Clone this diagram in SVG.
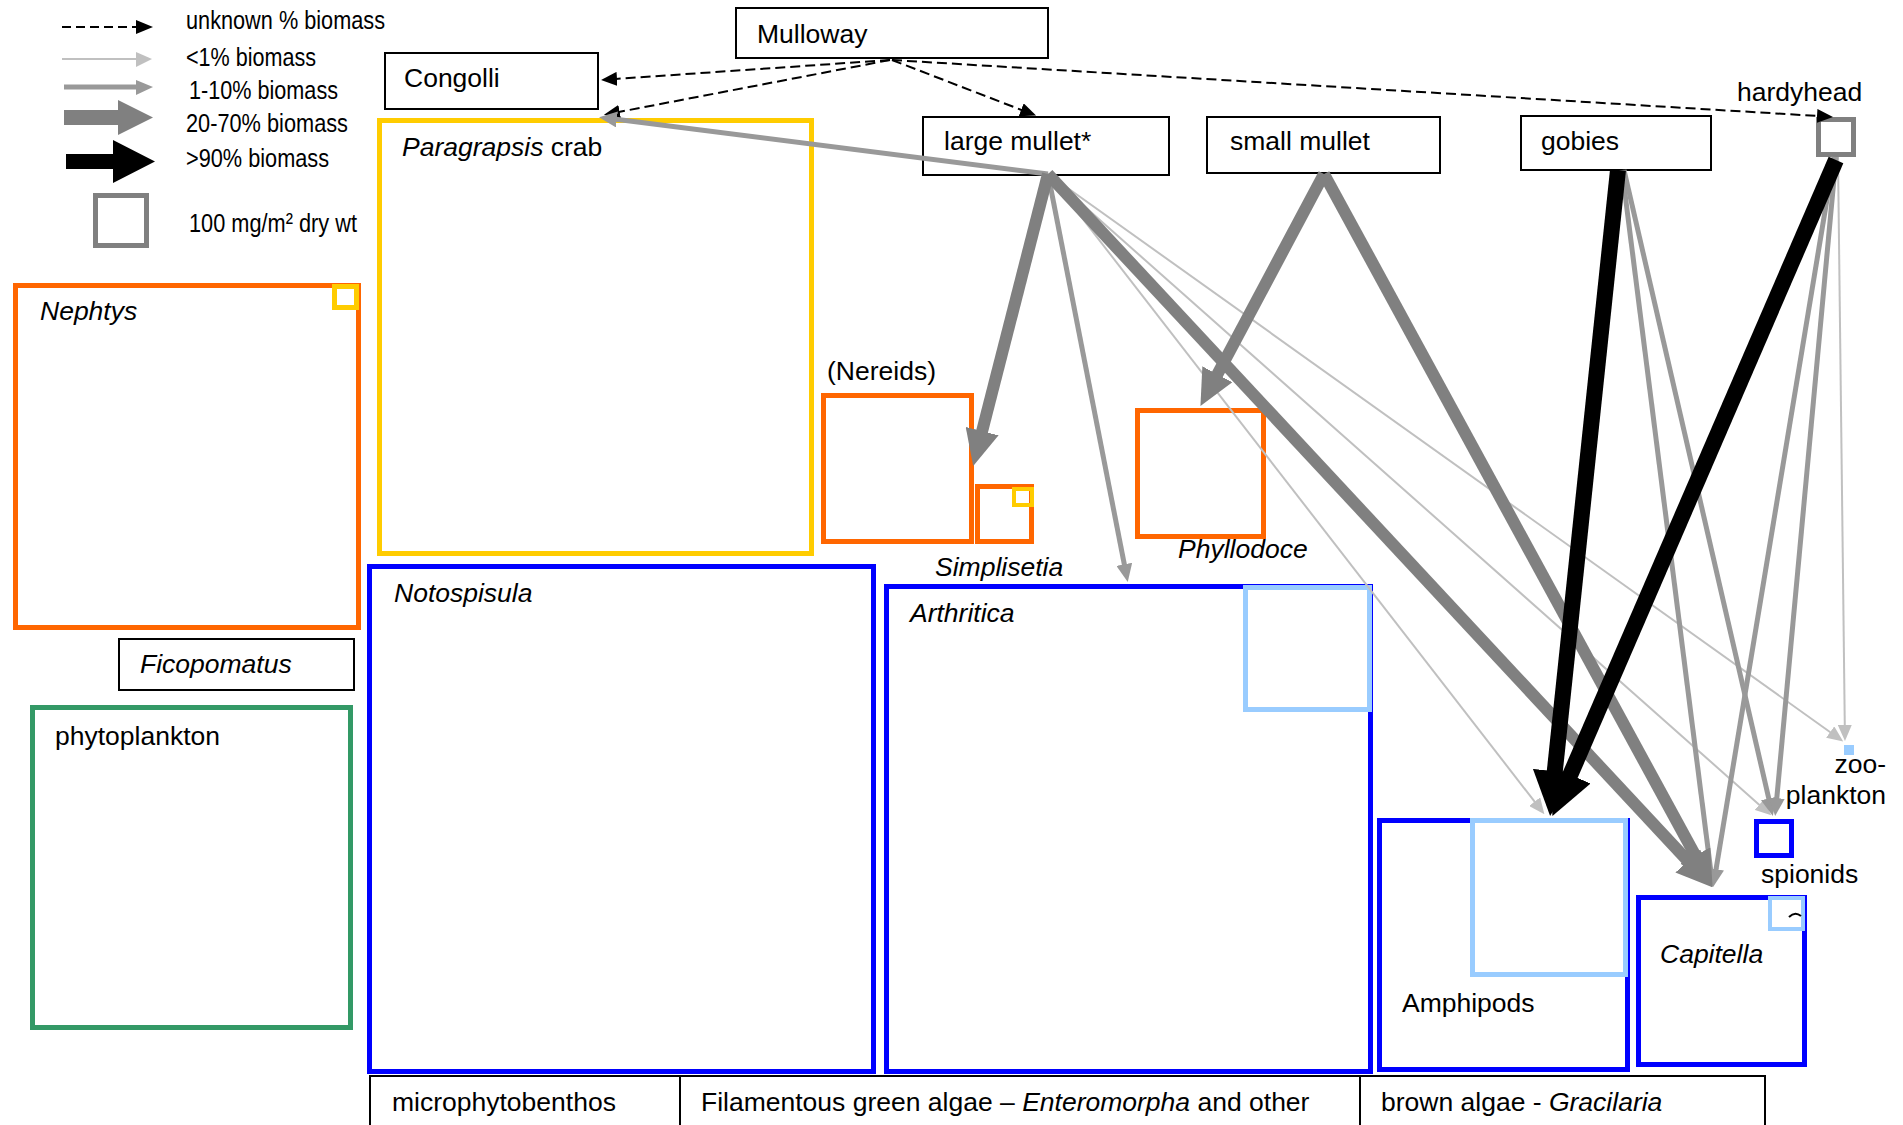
<svg xmlns="http://www.w3.org/2000/svg" width="1903" height="1125" viewBox="0 0 1903 1125">
<style>
text{font-family:"Liberation Sans",Arial,sans-serif;font-size:26.5px;fill:#000}
.it{font-style:italic}
.lg{font-family:"Liberation Sans Narrow","Liberation Sans",Arial,sans-serif}
.bx{fill:none;stroke:#000;stroke-width:2}
.or{fill:none;stroke:#ff6600;stroke-width:5}
.ye{fill:none;stroke:#ffcc00;stroke-width:5}
.bl{fill:none;stroke:#0000ff;stroke-width:5}
.lb{fill:none;stroke:#99ccff;stroke-width:5}
.gr{fill:none;stroke:#339966;stroke-width:5}
.gy{fill:none;stroke:#808080;stroke-width:5}
.dash{stroke:#000;stroke-width:2;stroke-dasharray:10,5;fill:none}
.thin{stroke:#c0c0c0;stroke-width:2;fill:none}
.med{stroke:#999999;stroke-width:5;fill:none}
.thick{stroke:#808080;stroke-width:12;fill:none}
.blk{stroke:#000;stroke-width:16;fill:none}
</style>
<defs>
<marker id="hDash" markerUnits="userSpaceOnUse" orient="auto" refX="1" refY="7" markerWidth="16" markerHeight="14" viewBox="0 0 16 14"><path d="M0,0L16,7L0,14Z" fill="#000"/></marker>
<marker id="hThin" markerUnits="userSpaceOnUse" orient="auto" refX="1" refY="7" markerWidth="16" markerHeight="14" viewBox="0 0 16 14"><path d="M0,0L16,7L0,14Z" fill="#c0c0c0"/></marker>
<marker id="hMed" markerUnits="userSpaceOnUse" orient="auto" refX="1" refY="8" markerWidth="18" markerHeight="16" viewBox="0 0 18 16"><path d="M0,0L18,8L0,16Z" fill="#999999"/></marker>
<marker id="hThick" markerUnits="userSpaceOnUse" orient="auto" refX="1" refY="17" markerWidth="36" markerHeight="34" viewBox="0 0 36 34"><path d="M0,0L36,17L0,34Z" fill="#808080"/></marker>
<marker id="hBlk" markerUnits="userSpaceOnUse" orient="auto" refX="1" refY="22" markerWidth="45" markerHeight="44" viewBox="0 0 45 44"><path d="M0,0L45,22L0,44Z" fill="#000"/></marker>
</defs>
<rect width="1903" height="1125" fill="#fff"/>

<g id="legend">
<line class="dash" x1="62" y1="27" x2="137" y2="27" style="stroke-dasharray:9,5"/>
<path d="M136,20L153,27L136,34Z" fill="#000"/>
<line class="thin" x1="62" y1="59" x2="137" y2="59"/>
<path d="M136,52L152,59L136,67Z" fill="#c0c0c0"/>
<line class="med" x1="64" y1="87" x2="137" y2="87"/>
<path d="M136,80L153,87L136,95Z" fill="#999999"/>
<path d="M64,110L118,110L118,100L153,117.5L118,135L118,125L64,125Z" fill="#808080"/>
<path d="M66,154L113,154L113,140L155,161.5L113,183L113,169L66,169Z" fill="#000"/>
<rect class="gy" x="95.5" y="195.5" width="51" height="50"/>
<text class="lg" x="186" y="29" textLength="199" lengthAdjust="spacingAndGlyphs">unknown % biomass</text>
<text class="lg" x="186" y="66" textLength="130" lengthAdjust="spacingAndGlyphs">&lt;1% biomass</text>
<text class="lg" x="189" y="99" textLength="149" lengthAdjust="spacingAndGlyphs">1-10% biomass</text>
<text class="lg" x="186" y="132" textLength="162" lengthAdjust="spacingAndGlyphs">20-70% biomass</text>
<text class="lg" x="186" y="167" textLength="143" lengthAdjust="spacingAndGlyphs">&gt;90% biomass</text>
<text class="lg" x="189" y="232" textLength="168" lengthAdjust="spacingAndGlyphs">100 mg/m² dry wt</text>
</g>

<g id="mulloway"><rect class="bx" x="736" y="8" width="312" height="50"/><text x="757" y="43">Mulloway</text></g>
<g id="congolli"><rect class="bx" x="385" y="53" width="213" height="56"/><text x="404" y="87">Congolli</text></g>
<g id="large-mullet"><rect class="bx" x="923" y="117" width="246" height="58"/><text x="944" y="150">large mullet*</text></g>
<g id="small-mullet"><rect class="bx" x="1207" y="117" width="233" height="56"/><text x="1230" y="150">small mullet</text></g>
<g id="gobies"><rect class="bx" x="1521" y="116" width="190" height="54"/><text x="1541" y="150">gobies</text></g>
<g id="hardyhead"><rect class="gy" x="1818.5" y="119.5" width="35" height="35"/><text x="1737" y="101">hardyhead</text></g>

<g id="paragrapsis"><rect class="ye" x="379.5" y="120.5" width="432" height="433"/><text x="402" y="156"><tspan class="it">Paragrapsis</tspan> crab</text></g>
<g id="nephtys"><rect class="or" x="15.5" y="285.5" width="343" height="342"/><rect class="ye" x="334.5" y="286.5" width="22" height="21"/><text class="it" x="40" y="320">Nephtys</text></g>
<g id="ficopomatus"><rect class="bx" x="119" y="639" width="235" height="51"/><text class="it" x="140" y="673">Ficopomatus</text></g>
<g id="phytoplankton"><rect class="gr" x="32.5" y="707.5" width="318" height="320"/><text x="55" y="745">phytoplankton</text></g>
<g id="notospisula"><rect class="bl" x="369.5" y="566.5" width="504" height="505"/><text class="it" x="394" y="602">Notospisula</text></g>
<g id="arthritica"><rect class="bl" x="886.5" y="586.5" width="484" height="485"/><rect class="lb" x="1245.5" y="587.5" width="124" height="122"/><text class="it" x="910" y="622">Arthritica</text></g>
<g id="nereids"><rect class="or" x="823.5" y="395.5" width="148" height="146"/><text x="827" y="380">(Nereids)</text></g>
<g id="simplisetia"><rect class="or" x="977.5" y="486.5" width="54" height="55"/><rect class="ye" x="1014" y="489" width="18" height="16" style="stroke-width:4"/><text class="it" x="935" y="576">Simplisetia</text></g>
<g id="phyllodoce"><rect class="or" x="1137.5" y="410.5" width="126" height="126"/><text class="it" x="1178" y="558">Phyllodoce</text></g>
<g id="amphipods"><rect class="bl" x="1379.5" y="820.5" width="248" height="249"/><rect class="lb" x="1472.5" y="820.5" width="153" height="154"/><text x="1402" y="1012">Amphipods</text></g>
<g id="capitella"><rect class="bl" x="1638.5" y="897.5" width="166" height="167"/><rect class="lb" x="1770" y="898" width="33" height="31" style="stroke-width:4"/><path d="M1789,917Q1795,911 1801,916" fill="none" stroke="#000" stroke-width="2"/><text class="it" x="1660" y="963">Capitella</text></g>
<g id="spionids"><rect class="bl" x="1756.5" y="821.5" width="35" height="34"/><text x="1761" y="883">spionids</text></g>
<g id="zooplankton"><rect x="1844" y="745" width="10" height="10" fill="#99ccff"/><text x="1886" y="773" text-anchor="end">zoo-</text><text x="1886" y="804" text-anchor="end">plankton</text></g>

<g id="producers">
<path d="M370,1126V1076H1765V1126M680,1076V1126M1360,1076V1126" fill="none" stroke="#000" stroke-width="2"/>
<text x="392" y="1111">microphytobenthos</text>
<text x="701" y="1111">Filamentous green algae – <tspan class="it">Enteromorpha</tspan> and other</text>
<text x="1381" y="1111">brown algae - <tspan class="it">Gracilaria</tspan></text>
</g>

<g id="connectors">
<line class="dash" x1="890" y1="60" x2="616" y2="78.9" marker-end="url(#hDash)"/>
<line class="dash" x1="890" y1="60" x2="618.7" y2="112" marker-end="url(#hDash)"/>
<line class="dash" x1="892" y1="60" x2="1022.1" y2="110.2" marker-end="url(#hDash)"/>
<line class="dash" x1="892" y1="60" x2="1818" y2="116" marker-end="url(#hDash)"/>

<line class="thin" x1="1048" y1="174" x2="1535.2" y2="802.4" marker-end="url(#hThin)"/>
<line class="thin" x1="1048" y1="174" x2="1760" y2="805.4" marker-end="url(#hThin)"/>
<line class="thin" x1="1048" y1="174" x2="1831" y2="732.7" marker-end="url(#hThin)"/>
<line class="thin" x1="1838" y1="157" x2="1844.8" y2="726" marker-end="url(#hThin)"/>

<line class="med" x1="1048" y1="174" x2="615.9" y2="119.3" marker-end="url(#hMed)"/>
<line class="med" x1="1048" y1="174" x2="1124.5" y2="565.3" marker-end="url(#hMed)"/>
<line class="med" x1="1622" y1="170" x2="1710.7" y2="870.1" marker-end="url(#hMed)"/>
<line class="med" x1="1624" y1="170" x2="1769" y2="799.5" marker-end="url(#hMed)"/>
<line class="med" x1="1834" y1="157" x2="1715.9" y2="870.2" marker-end="url(#hMed)"/>
<line class="med" x1="1836" y1="157" x2="1776.7" y2="799.1" marker-end="url(#hMed)"/>

<line class="thick" x1="1048" y1="174" x2="981.9" y2="432.1" marker-end="url(#hThick)"/>
<line class="thick" x1="1048" y1="174" x2="1688.5" y2="861.7" marker-end="url(#hThick)"/>
<line class="thick" x1="1324" y1="174" x2="1216.9" y2="375.2" marker-end="url(#hThick)"/>
<line class="thick" x1="1324" y1="174" x2="1695.8" y2="856.4" marker-end="url(#hThick)"/>

<line class="blk" x1="1618" y1="170" x2="1554.7" y2="772.2" marker-end="url(#hBlk)"/>
<line class="blk" x1="1836" y1="160" x2="1569.9" y2="775.7" marker-end="url(#hBlk)"/>
</g>
</svg>
